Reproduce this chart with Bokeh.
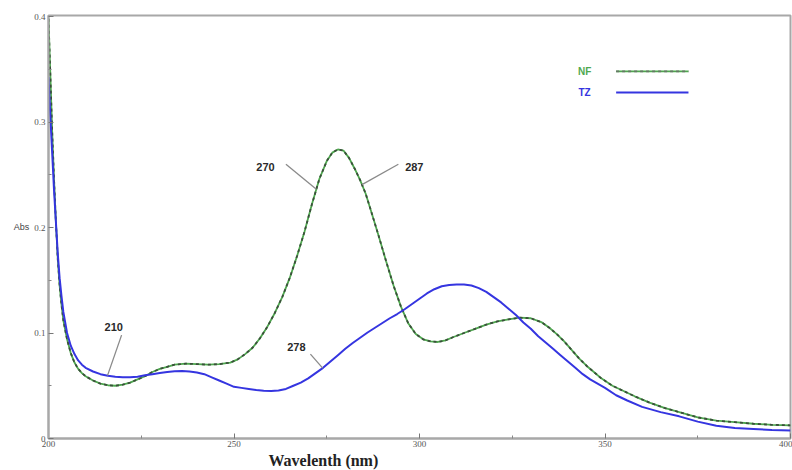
import numpy as np
from bokeh.plotting import figure
from bokeh.models import Range1d, FixedTicker, Title
from bokeh.core.properties import value
from bokeh.embed import file_html
from bokeh.resources import INLINE

# NF (green, dashed) spectrum
nf_wl = [200, 200.5, 201, 201.5, 202, 202.5, 203, 203.5, 204, 205, 206, 207, 208, 209, 210, 212, 214, 216,
         218, 220, 222, 224, 226, 228, 230, 232, 234, 237, 240, 243, 246, 249, 251, 253, 255, 257, 259,
         261, 263, 265, 267, 269, 271, 273, 275, 276.5, 278, 279.5, 281, 282.5, 284, 285.5, 287, 289,
         291, 293, 295, 297, 299, 301, 303, 305, 307, 309, 312, 315, 318, 321, 324, 327, 330, 333, 335,
         337, 339, 341, 343, 345, 347, 349, 352, 355, 358, 362, 366, 370, 375, 380, 385, 390, 395, 400]
nf_abs = [0.398, 0.345, 0.29, 0.245, 0.205, 0.17, 0.145, 0.127, 0.112, 0.094, 0.081, 0.072, 0.066, 0.062, 0.059,
          0.055, 0.052, 0.0505, 0.050, 0.051, 0.053, 0.056, 0.059, 0.063, 0.066, 0.068, 0.070, 0.071, 0.0705,
          0.070, 0.0705, 0.072, 0.075, 0.080, 0.086, 0.095, 0.106, 0.119, 0.134, 0.152, 0.173, 0.196, 0.222,
          0.246, 0.263, 0.271, 0.274, 0.273, 0.266, 0.256, 0.245, 0.232, 0.215, 0.192, 0.168, 0.145, 0.125,
          0.109, 0.099, 0.094, 0.092, 0.0915, 0.093, 0.096, 0.100, 0.104, 0.108, 0.111, 0.113, 0.1145, 0.114,
          0.110, 0.105, 0.099, 0.092, 0.084, 0.076, 0.069, 0.063, 0.057, 0.050, 0.045, 0.040, 0.034, 0.029,
          0.025, 0.020, 0.017, 0.0155, 0.014, 0.013, 0.0125]

# TZ (blue, solid) spectrum
tz_wl = [200, 200.5, 201, 201.5, 202, 202.5, 203, 203.5, 204, 205, 206, 207, 208, 209, 210, 212, 214, 216,
         218, 220, 222, 224, 226, 228, 230, 232, 234, 236, 238, 240, 242, 244, 246, 248, 250, 252, 254,
         256, 258, 260, 262, 264, 266, 268, 270, 272, 274, 276, 278, 280, 282, 284, 286, 288, 290, 292,
         294, 296, 298, 300, 302, 304, 306, 308, 310, 312, 314, 316, 318, 320, 322, 324, 326, 328, 330,
         332, 334, 336, 338, 340, 342, 344, 346, 348, 350, 353, 356, 360, 365, 370, 375, 380, 385, 390,
         395, 400]
tz_abs = [0.343, 0.305, 0.27, 0.235, 0.205, 0.175, 0.152, 0.135, 0.12, 0.1, 0.088, 0.08, 0.074, 0.07, 0.067,
          0.0635, 0.061, 0.0595, 0.0585, 0.058, 0.058, 0.0585, 0.060, 0.061, 0.062, 0.063, 0.0638, 0.064,
          0.0635, 0.0625, 0.061, 0.058, 0.055, 0.052, 0.049, 0.048, 0.047, 0.046, 0.0452, 0.045, 0.0455,
          0.047, 0.050, 0.053, 0.057, 0.062, 0.067, 0.073, 0.079, 0.085, 0.0905, 0.0955, 0.1005, 0.105, 0.1095,
          0.114, 0.118, 0.1225, 0.1275, 0.1325, 0.1375, 0.1415, 0.1443, 0.1455, 0.146, 0.146, 0.145, 0.1425,
          0.139, 0.134, 0.129, 0.123, 0.117, 0.110, 0.104, 0.097, 0.091, 0.085, 0.079, 0.073, 0.067, 0.061,
          0.056, 0.052, 0.048, 0.041, 0.036, 0.030, 0.025, 0.021, 0.016, 0.012, 0.010, 0.009, 0.008, 0.0076]

x_ticks = [200, 250, 300, 350, 400]
x_minor = [225, 275, 325, 375]
y_ticks = [0, 0.1, 0.2, 0.3, 0.4]
y_minor = [0.05, 0.15, 0.25, 0.35]

# annotations: label, wavelength on curve, which curve, label position
ann_text = ["270", "287", "210", "278"]
ann_curve_x = [272.2, 284.5, 215.9, 273.9]
ann_curve = ["nf", "nf", "tz", "tz"]
ann_start_x = [264.0, 294.3, 219.7, 270.6]
ann_start_y = [0.260, 0.260, 0.098, 0.080]
ann_label_x = [258.5, 298.6, 217.6, 266.8]
ann_label_y = [0.257, 0.257, 0.106, 0.087]

GREEN = "#4fa84f"
DARK = "#3b4f3b"
BLUE = "#3535e0"
GRAY = "#a8a8a8"

p = figure(width=792, height=470, output_backend="svg", toolbar_location=None,
           x_range=Range1d(200, 400), y_range=Range1d(0, 0.401),
           min_border_left=48, min_border_right=2, min_border_top=15, min_border_bottom=32)
p.background_fill_color = "white"
p.border_fill_color = "white"
p.outline_line_color = GRAY
p.outline_line_width = 2
p.xgrid.visible = False
p.ygrid.visible = False

for ax in (p.xaxis, p.yaxis):
    ax.axis_line_color = GRAY
    ax.axis_line_width = 2
    ax.major_tick_in = 5
    ax.major_tick_out = 0
    ax.minor_tick_in = 3
    ax.minor_tick_out = 0
    ax.major_tick_line_color = "#777777"
    ax.minor_tick_line_color = "#888888"
    ax.major_label_text_font = "Liberation Sans Narrow"
    ax.major_label_text_font_size = "9px"
    ax.major_label_text_color = "#555555"

p.xaxis.ticker = FixedTicker(ticks=x_ticks, minor_ticks=x_minor)
p.yaxis.ticker = FixedTicker(ticks=y_ticks, minor_ticks=y_minor)
p.xaxis.major_label_overrides = {t: str(t) for t in x_ticks}
p.yaxis.major_label_overrides = {0: "0", 0.1: "0.1", 0.2: "0.2", 0.3: "0.3", 0.4: "0.4"}
p.xaxis.major_label_standoff = 2
p.yaxis.major_label_standoff = 3
p.yaxis.axis_label = "Abs"
p.yaxis.axis_label_orientation = "horizontal"
p.yaxis.axis_label_text_font = "Liberation Sans"
p.yaxis.axis_label_text_font_style = "normal"
p.yaxis.axis_label_text_font_size = "9px"
p.yaxis.axis_label_text_color = "#444444"
p.yaxis.axis_label_standoff = 2

xt = Title(text="Wavelenth (nm)", align="left", offset=220,
           text_font="Liberation Serif", text_font_size="16px",
           text_font_style="bold", text_color="#222222", standoff=0)
p.add_layout(xt, "below")

# curves
p.line(nf_wl, nf_abs, line_color=GREEN, line_width=1.8)
p.line(nf_wl, nf_abs, line_color=DARK, line_width=1.8, line_dash="3 3")
p.line(tz_wl, tz_abs, line_color=BLUE, line_width=2)

# annotations
for i, t in enumerate(ann_text):
    if ann_curve[i] == "nf":
        ey = float(np.interp(ann_curve_x[i], nf_wl, nf_abs))
    else:
        ey = float(np.interp(ann_curve_x[i], tz_wl, tz_abs))
    p.line([ann_start_x[i], ann_curve_x[i]], [ann_start_y[i], ey], line_color="#8a8a8a", line_width=1.3)
    p.text([ann_label_x[i]], [ann_label_y[i]], text=[t], text_font=value("Liberation Sans"),
           text_font_size="11px", text_font_style="bold", text_color="#2a2a2a",
           text_align="center", text_baseline="middle")

# legend (label left, line right)
leg_labels = ["NF", "TZ"]
leg_colors = [GREEN, BLUE]
leg_y = [0.348, 0.328]
p.text([344.5, 344.5], leg_y, text=leg_labels, text_font=value("Liberation Sans"),
       text_font_size="10px", text_font_style="bold", text_color=leg_colors,
       text_align="center", text_baseline="middle")
p.line([353, 372.5], [leg_y[0], leg_y[0]], line_color=GREEN, line_width=1.8)
p.line([353, 372.5], [leg_y[0], leg_y[0]], line_color="#667766", line_width=1.8, line_dash="3 3")
p.line([353, 372.5], [leg_y[1], leg_y[1]], line_color=BLUE, line_width=2)

open("out.html", "w").write(file_html(p, INLINE))
